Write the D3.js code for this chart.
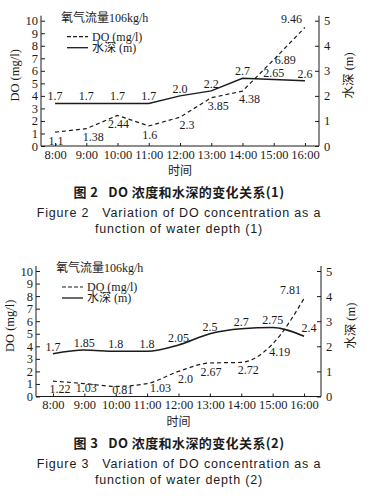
<!DOCTYPE html>
<html>
<head>
<meta charset="utf-8">
<script src="https://cdn.jsdelivr.net/npm/d3@7"></script>
<style>
body { margin: 0; background: #fff; }
text { fill: #1b1b1b; }
.serif { font-family: "Liberation Serif", "Noto Sans CJK SC", serif; font-size: 12px; }
.axis text { font-family: "Liberation Serif", serif; font-size: 12.5px; fill: #1b1b1b; }
.axis line, .axis path { stroke: #1b1b1b; }
.cap-zh { font-family: "Noto Sans CJK SC", sans-serif; font-weight: bold; font-size: 13px; letter-spacing: 0.4px; }
.cap-en { font-family: "Liberation Sans", Arial, sans-serif; font-size: 12.5px; letter-spacing: 0.85px; }
</style>
</head>
<body>
<svg width="369" height="497"></svg>
<script>
// time of day
var hours = ["8:00", "9:00", "10:00", "11:00", "12:00", "13:00", "14:00", "15:00", "16:00"];

// figure 2
var doFig2 = [1.1, 1.38, 2.44, 1.6, 2.3, 3.85, 4.38, 6.89, 9.46];
var depthFig2 = [1.7, 1.7, 1.7, 1.7, 2.0, 2.2, 2.7, 2.65, 2.6];
var doLabelSide2 = ["below", "belowRight", "below", "below", "belowRight", "belowRight", "belowRight", "upRight", "aboveLeft"];
var depthLabelSide2 = ["above", "above", "above", "above", "above", "above", "above", "above", "above"];

// figure 3
var doFig3 = [1.22, 1.03, 0.81, 1.03, 2.0, 2.67, 2.72, 4.19, 7.81];
var depthFig3 = [1.7, 1.85, 1.8, 1.8, 2.05, 2.5, 2.7, 2.75, 2.4];
var doLabelSide3 = ["belowRight", "belowClose", "belowRightClose", "right", "belowRight", "below", "belowRight", "belowRight", "aboveLeft"];
var depthLabelSide3 = ["above", "above", "above", "above", "above", "above", "above", "above", "aboveRight"];

// axis ticks
var doTicks = [0, 1, 2, 3, 4, 5, 6, 7, 8, 9, 10];
var depthTicks = [0, 1, 2, 3, 4, 5];

var svg = d3.select("svg");

function fmt(v) {
    return Math.round(v * 10) === v * 10 ? v.toFixed(1) : v.toFixed(2);
}

var sides = {
    above:           { dx: 0,  dy: -3, anchor: "middle" },
    aboveRight:      { dx: 5,  dy: -4, anchor: "middle" },
    aboveLeft:       { dx: -3, dy: -4, anchor: "end" },
    below:           { dx: 1,  dy: 13, anchor: "middle" },
    belowRight:      { dx: 7,  dy: 12, anchor: "middle" },
    belowClose:      { dx: 2,  dy: 8,  anchor: "middle" },
    belowRightClose: { dx: 7,  dy: 8,  anchor: "middle" },
    right:           { dx: 3,  dy: 8,  anchor: "start" },
    upRight:         { dx: 1,  dy: 4,  anchor: "start" }
};

function drawChart(c) {
    var g = svg.append("g");

    var x = d3.scalePoint().domain(hours).range([c.left, c.right]).padding(c.pad);
    var yDO = d3.scaleLinear().domain([0, 10]).range([c.y0, c.y10]);
    var yDepth = d3.scaleLinear().domain([0, 5]).range([c.y0, c.y10]);

    // axes
    var gx = g.append("g").attr("class", "axis")
        .attr("transform", "translate(0," + c.y0 + ")")
        .call(d3.axisBottom(x).tickSizeInner(-3).tickSizeOuter(0).tickPadding(4));
    gx.select(".domain").attr("d", "M" + c.left + ",0H" + c.right);

    var gl = g.append("g").attr("class", "axis")
        .attr("transform", "translate(" + c.left + ",0)")
        .call(d3.axisLeft(yDO).tickValues(doTicks).tickFormat(d3.format("d"))
            .tickSizeInner(-4).tickSizeOuter(0).tickPadding(3));
    gl.select(".domain").attr("d", "M0," + c.y0 + "V" + (c.y10 - 5));

    var gr = g.append("g").attr("class", "axis")
        .attr("transform", "translate(" + c.right + ",0)")
        .call(d3.axisRight(yDepth).tickValues(depthTicks).tickFormat(d3.format("d"))
            .tickSizeInner(-4).tickSizeOuter(0).tickPadding(5));
    gr.select(".domain").attr("d", "M0," + c.y0 + "V" + (c.y10 - 5));

    // axis titles
    var midY = (c.y0 + c.y10) / 2 - 8;
    g.append("text").attr("class", "serif")
        .attr("transform", "translate(" + (c.left - 22) + "," + midY + ") rotate(-90)")
        .attr("text-anchor", "middle").style("font-size", "12.5px")
        .text("DO (mg/l)");
    g.append("text").attr("class", "serif")
        .attr("transform", "translate(" + (c.right + 34) + "," + midY + ") rotate(-90)")
        .attr("text-anchor", "middle").style("font-size", "12.5px")
        .text("水深 (m)");
    g.append("text").attr("class", "serif")
        .attr("x", (c.left + c.right) / 2).attr("y", c.y0 + 29)
        .attr("text-anchor", "middle")
        .text("时间");

    // lines
    var lineDO = d3.line().curve(c.curve)
        .x(function (d, i) { return x(hours[i]); })
        .y(function (d) { return yDO(d); });
    var lineDepth = d3.line().curve(c.curve)
        .x(function (d, i) { return x(hours[i]); })
        .y(function (d) { return yDepth(d); });

    g.append("path").attr("d", lineDepth(c.depth))
        .attr("fill", "none").attr("stroke", "#1b1b1b").attr("stroke-width", 1.5);
    g.append("path").attr("d", lineDO(c.dox))
        .attr("fill", "none").attr("stroke", "#1b1b1b").attr("stroke-width", 1.2)
        .attr("stroke-dasharray", "4,3");

    // value labels
    function labels(vals, sideArr, y) {
        g.append("g").selectAll("text")
            .data(vals)
            .enter().append("text")
            .attr("class", "serif")
            .attr("x", function (d, i) { return x(hours[i]) + sides[sideArr[i]].dx; })
            .attr("y", function (d, i) { return y(d) + sides[sideArr[i]].dy; })
            .attr("text-anchor", function (d, i) { return sides[sideArr[i]].anchor; })
            .text(fmt);
    }
    labels(c.depth, c.depthSide, yDepth);
    labels(c.dox, c.doSide, yDO);

    // legend
    var lg = g.append("g").attr("transform", "translate(" + (c.left + 20) + "," + c.y10 + ")");
    lg.append("text").attr("class", "serif").attr("x", 0).attr("y", 1).text("氧气流量106kg/h");
    lg.append("line").attr("x1", 6).attr("x2", 27).attr("y1", 16).attr("y2", 16)
        .attr("stroke", "#1b1b1b").attr("stroke-width", 1.2).attr("stroke-dasharray", "4,2");
    lg.append("text").attr("class", "serif").attr("x", 31).attr("y", 20).text("DO (mg/l)");
    lg.append("line").attr("x1", 6).attr("x2", 27).attr("y1", 27).attr("y2", 27)
        .attr("stroke", "#1b1b1b").attr("stroke-width", 1.3);
    lg.append("text").attr("class", "serif").attr("x", 31).attr("y", 31).text("水深 (m)");

    // captions
    var cx = 179;
    g.append("text").attr("class", "cap-zh").attr("x", cx).attr("y", c.y0 + 51)
        .attr("text-anchor", "middle").attr("xml:space", "preserve")
        .text(c.capZh);
    g.append("text").attr("class", "cap-en").attr("x", cx).attr("y", c.y0 + 71)
        .attr("text-anchor", "middle").attr("xml:space", "preserve")
        .text(c.capEn1);
    g.append("text").attr("class", "cap-en").attr("x", cx).attr("y", c.y0 + 87)
        .attr("text-anchor", "middle").attr("xml:space", "preserve")
        .text(c.capEn2);
}

drawChart({
    left: 41, right: 319, pad: 0.45, y0: 146, y10: 20.7,
    curve: d3.curveLinear,
    dox: doFig2, depth: depthFig2, doSide: doLabelSide2, depthSide: depthLabelSide2,
    capZh: "图 2   DO 浓度和水深的变化关系(1)",
    capEn1: "Figure 2   Variation of DO concentration as a",
    capEn2: "function of water depth (1)"
});

drawChart({
    left: 36, right: 321, pad: 0.54, y0: 396.5, y10: 271,
    curve: d3.curveMonotoneX,
    dox: doFig3, depth: depthFig3, doSide: doLabelSide3, depthSide: depthLabelSide3,
    capZh: "图 3   DO 浓度和水深的变化关系(2)",
    capEn1: "Figure 3   Variation of DO concentration as a",
    capEn2: "function of water depth (2)"
});
</script>
</body>
</html>
